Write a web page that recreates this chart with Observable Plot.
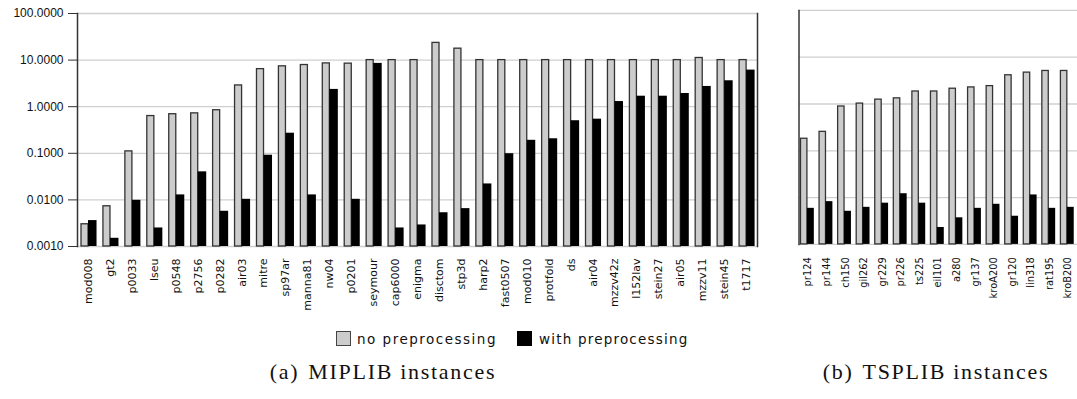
<!DOCTYPE html>
<html><head><meta charset="utf-8">
<script src="https://cdn.jsdelivr.net/npm/d3@7"></script>
<script src="https://cdn.jsdelivr.net/npm/@observablehq/plot@0.6"></script>
<style>
html,body{margin:0;padding:0;background:#fff;overflow:hidden;width:1077px;height:399px}
#wrap{position:relative;width:1077px;height:399px;overflow:hidden}
.panel{position:absolute;top:0}
.leg{position:absolute;top:331px;font-family:"DejaVu Sans";font-size:13.5px;letter-spacing:1.5px;color:#111;line-height:16px;white-space:nowrap}
.sw{position:absolute;top:331px;width:13px;height:13px;border:1.5px solid #444}
.cap{position:absolute;top:359px;width:400px;text-align:center;font-family:"Liberation Serif";font-size:22px;letter-spacing:1.7px;color:#111;white-space:nowrap}
.cap span{margin-right:9px}
</style></head>
<body><div id="wrap">
<div id="left" class="panel" style="left:0"></div>
<div id="right" class="panel" style="left:760px"></div>
<div class="sw" style="left:336px;background:#cccccc"></div>
<div class="leg" style="left:357px">no preprocessing</div>
<div class="sw" style="left:517px;background:#000;border-color:#000"></div>
<div class="leg" style="left:539px;letter-spacing:1.2px">with preprocessing</div>
<div class="cap" style="left:183px"><span>(a)</span>MIPLIB instances</div>
<div class="cap" style="left:736px"><span>(b)</span>TSPLIB instances</div>
</div>
<script>
const yTicks = [0.001, 0.01, 0.1, 1, 10, 100];

const miplibNames = ["mod008","gt2","p0033","lseu","p0548","p2756","p0282","air03","mitre","sp97ar","manna81","nw04","p0201","seymour","cap6000","enigma","disctom","stp3d","harp2","fast0507","mod010","protfold","ds","air04","mzzv42z","l152lav","stein27","air05","mzzv11","stein45","t1717"];
const miplibNo = [0.0030,0.0073,0.11,0.63,0.69,0.72,0.84,2.86,6.4,7.35,7.84,8.5,8.4,10,10,10,23.4,17.6,10,10,10,10,10,10,10,10,10,10,11.1,10,10];
const miplibWith = [0.0036,0.0015,0.0098,0.0025,0.0128,0.040,0.0057,0.0103,0.091,0.27,0.0128,2.35,0.0103,8.5,0.0025,0.0029,0.0053,0.0065,0.022,0.098,0.19,0.205,0.50,0.54,1.29,1.68,1.68,1.92,2.72,3.6,6.1];

const tspNames = ["pr124","pr144","ch150","gil262","gr229","pr226","ts225","eil101","a280","gr137","kroA200","gr120","lin318","rat195","kroB200"];
const tspNo = [0.181,0.254,0.885,1.02,1.24,1.32,1.85,1.85,2.12,2.26,2.41,4.11,4.68,5.08,5.08];
const tspWith = [0.0059,0.0082,0.0051,0.0062,0.0076,0.0121,0.0076,0.0023,0.0037,0.0059,0.0072,0.0040,0.0114,0.0059,0.0062];

function panel(names, noVals, withVals, o) {
  const data = names.map((n, i) => ({name: n, no: noVals[i], pre: withVals[i]}));
  const marks = [
    Plot.ruleY(yTicks, {stroke: "#cfcfcf", strokeWidth: 1.3}),
    Plot.barY(data, {x: "name", y1: () => 0.001, y2: "no", fill: "#cccccc", stroke: "#333", strokeWidth: 1.3, insetLeft: o.gL, insetRight: o.gR}),
    Plot.barY(data, {x: "name", y1: () => 0.001, y2: "pre", fill: "#000", insetLeft: o.bL, insetRight: o.bR}),
    Plot.axisX({tickSize: 0, tickPadding: o.tp, tickRotate: -90, fontSize: o.fs, fontFamily: "DejaVu Sans", label: null}),
    Plot.frame({anchor: "left", stroke: "#333", strokeWidth: 1.5})
  ];
  if (o.yAxis) marks.push(Plot.axisY({ticks: yTicks, tickFormat: d3.format(".4f"), tickSize: 9, tickPadding: 5, fontFamily: "Liberation Sans", fontSize: 12, stroke: "#333", label: null}));
  if (o.rightFrame) marks.push(Plot.frame({anchor: "right", stroke: "#333", strokeWidth: 1.5}));
  return Plot.plot({
    width: o.width, height: 320,
    marginLeft: o.ml, marginRight: o.mr, marginTop: o.mt, marginBottom: o.mb,
    style: {background: "transparent", color: "#111", overflow: "visible"},
    x: {type: "band", domain: names, padding: 0, round: false, label: null},
    y: {type: "log", domain: [0.001, 100], label: null, axis: o.yAxis ? undefined : null},
    marks
  });
}

document.getElementById("left").append(panel(miplibNames, miplibNo, miplibWith, {
  width: 760, ml: 77, mr: 3, mt: 13, mb: 74, gL: 4, gR: 10.9, bL: 11, bR: 2.4, tp: 12, fs: 11, yAxis: true, rightFrame: true
}));
document.getElementById("right").append(panel(tspNames, tspNo, tspWith, {
  width: 321, ml: 39, mr: 0, mt: 10, mb: 73, gL: 2, gR: 10.3, bL: 8.5, bR: 3.3, tp: 13, fs: 10, yAxis: false, rightFrame: false
}));
</script>
</body></html>
